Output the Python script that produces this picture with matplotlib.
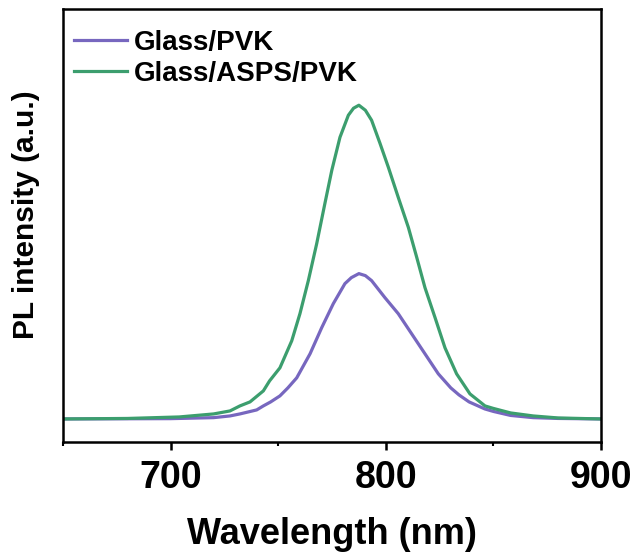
import matplotlib
matplotlib.use("Agg")
import matplotlib.pyplot as plt
from matplotlib.ticker import MultipleLocator

# PL spectra (intensity in arbitrary units)
wl_pvk = [650, 700, 720, 727.6, 732.2, 740, 743.1, 746.5, 750.8, 754.5, 758.6,
          764.8, 770.2, 775.6, 781, 784, 787.5, 790.5, 793.4, 799.6, 805.8,
          812, 818.2, 824.4, 830.2, 834, 838.7, 846, 850, 858, 868.5, 880, 900]
pl_pvk = [0, 0.3, 1.3, 3, 5, 9, 13, 17, 23, 31, 41,
          65, 91, 115, 135, 141, 145, 143, 138, 121, 105,
          85, 65, 45, 31, 24, 17, 10, 7.5, 3.5, 1.3, 0.5, 0]

wl_asps = [650, 680, 704, 720, 727.6, 732.2, 736.9, 743.1, 746, 750.8, 756.3,
           760.1, 764, 767.9, 771.7, 774.9, 778.7, 782.6, 785, 787.5, 790.5,
           793.4, 797.3, 801.2, 805.8, 810.5, 814.4, 818.2, 822.9, 827.5,
           832.9, 839.1, 846.1, 850, 858, 868.5, 880, 900]
pl_asps = [0, 0.5, 2, 5, 8, 13, 17, 28, 38, 51, 78,
           105, 138, 175, 215, 248, 281, 303, 310, 313, 308,
           298, 275, 251, 221, 191, 161, 131, 101, 71,
           45, 25, 13, 10.5, 6, 3, 1, 0]

labels = ["Glass/PVK", "Glass/ASPS/PVK"]
colors = ["#7767BF", "#3C9E6E"]

plt.rcParams['font.family'] = ['Liberation Sans', 'DejaVu Sans']
plt.rcParams['font.weight'] = 'bold'

fig = plt.figure(figsize=(6.35, 5.56), dpi=100)
ax = fig.add_axes([63 / 635, 114 / 556, 538 / 635, 433 / 556])

ax.plot(wl_pvk, pl_pvk, color=colors[0], lw=2.3, label=labels[0])
ax.plot(wl_asps, pl_asps, color=colors[1], lw=2.3, label=labels[1])

ax.set_xlim(650, 900)
ax.set_ylim(-23, 409)
ax.xaxis.set_major_locator(MultipleLocator(100))
ax.xaxis.set_minor_locator(MultipleLocator(50))
ax.set_yticks([])
ax.tick_params(axis='x', which='major', direction='out', length=6, width=1.8,
               labelsize=27, pad=7)
ax.tick_params(axis='x', which='minor', direction='out', length=3, width=1.5)
for s in ax.spines.values():
    s.set_linewidth(1.8)

ax.set_xlabel("Wavelength (nm)", fontsize=26, fontweight='bold', labelpad=15)
ax.set_ylabel("PL intensity (a.u.)", fontsize=21.5, fontweight='bold')
ax.yaxis.set_label_coords(-0.042, 0.524)

ax.legend(loc='upper left', bbox_to_anchor=(-0.011, 0.99), frameon=False,
          handlelength=1.9, handletextpad=0.25, labelspacing=0.18,
          borderaxespad=0.2, prop={'weight': 'bold', 'size': 20})

fig.savefig("out.png", dpi=100)
